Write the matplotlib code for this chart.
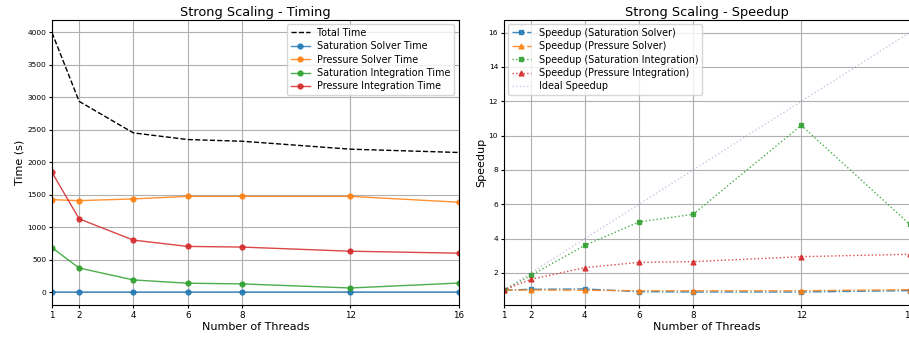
import numpy as np
import matplotlib
matplotlib.use("Agg")
import matplotlib.pyplot as plt

# thread counts
threads = [1, 2, 4, 6, 8, 12, 16]

# timings (s)
total_time = [3990, 2934, 2449, 2347, 2321, 2199, 2148]
sat_solver_time = [3.0, 2.85, 2.8, 3.3, 3.4, 3.4, 3.1]
pres_solver_time = [1423, 1408, 1434, 1474, 1474, 1474, 1383]
sat_integ_time = [684, 372, 189, 138, 128, 65, 141]
pres_integ_time = [1842, 1128, 801, 704, 694, 630, 600]

# speedups
sp_sat_solver = [1.0, 1.05, 1.07, 0.91, 0.89, 0.89, 0.97]
sp_pres_solver = [1.0, 1.01, 0.99, 0.965, 0.965, 0.965, 1.03]
sp_sat_integ = [1.0, 1.86, 3.61, 4.97, 5.42, 10.6, 4.85]
sp_pres_integ = [1.0, 1.63, 2.31, 2.62, 2.66, 2.95, 3.09]
ideal = [1, 2, 4, 6, 8, 12, 16]

W, H = 909, 339
fig = plt.figure(figsize=(W / 100, H / 100), dpi=100)
ax1 = fig.add_axes([52 / W, 34 / H, 407 / W, 285.3 / H])
ax2 = fig.add_axes([503.7 / W, 34 / H, 405.8 / W, 285.3 / H])

lw = 1.0
ms = 3.5

#---------------- timing ----------------#
ax1.plot(threads, total_time, '--', color='black', lw=lw, label='Total Time')
ax1.plot(threads, sat_solver_time, 'o-', color='tab:blue', lw=lw, ms=ms, alpha=0.85, label='Saturation Solver Time')
ax1.plot(threads, pres_solver_time, 'o-', color='tab:orange', lw=lw, ms=ms, alpha=0.85, label='Pressure Solver Time')
ax1.plot(threads, sat_integ_time, 'o-', color='tab:green', lw=lw, ms=ms, alpha=0.85, label='Saturation Integration Time')
ax1.plot(threads, pres_integ_time, 'o-', color='tab:red', lw=lw, ms=ms, alpha=0.85, label='Pressure Integration Time')
ax1.set_xlim(1, 16)
ax1.set_title('Strong Scaling - Timing', fontsize=9.3, pad=3)
ax1.set_xlabel('Number of Threads', fontsize=8, labelpad=2)
ax1.set_ylabel('Time (s)', fontsize=8, labelpad=2)
ax1.legend(loc='upper right', fontsize=6.9, handlelength=2.0, borderpad=0.35, labelspacing=0.35)

#---------------- speedup ----------------#
ax2.plot(threads, sp_sat_solver, 's-.', color='tab:blue', lw=lw, ms=ms, alpha=0.85, label='Speedup (Saturation Solver)')
ax2.plot(threads, sp_pres_solver, '^-.', color='tab:orange', lw=lw, ms=ms, alpha=0.85, label='Speedup (Pressure Solver)')
ax2.plot(threads, sp_sat_integ, 's:', color='tab:green', lw=lw, ms=ms, alpha=0.85, label='Speedup (Saturation Integration)')
ax2.plot(threads, sp_pres_integ, '^:', color='tab:red', lw=lw, ms=ms, alpha=0.85, label='Speedup (Pressure Integration)')
ax2.plot(threads, ideal, ':', color='tab:purple', lw=lw, alpha=0.4, label='Ideal Speedup')
ax2.set_xlim(1, 16)
ax2.set_title('Strong Scaling - Speedup', fontsize=9.3, pad=3)
ax2.set_xlabel('Number of Threads', fontsize=8, labelpad=2)
ax2.set_ylabel('Speedup', fontsize=8, labelpad=2)
ax2.legend(loc='upper left', fontsize=6.9, handlelength=2.0, borderpad=0.35, labelspacing=0.35)

for ax in (ax1, ax2):
    ax.set_xticks(threads)
    ax.tick_params(axis='x', labelsize=6.3, length=2.5, pad=1.5)
    ax.tick_params(axis='y', labelsize=5.4, length=2.5, pad=1.5)
    ax.grid(True, lw=0.8)

fig.savefig('out.png', dpi=100)
